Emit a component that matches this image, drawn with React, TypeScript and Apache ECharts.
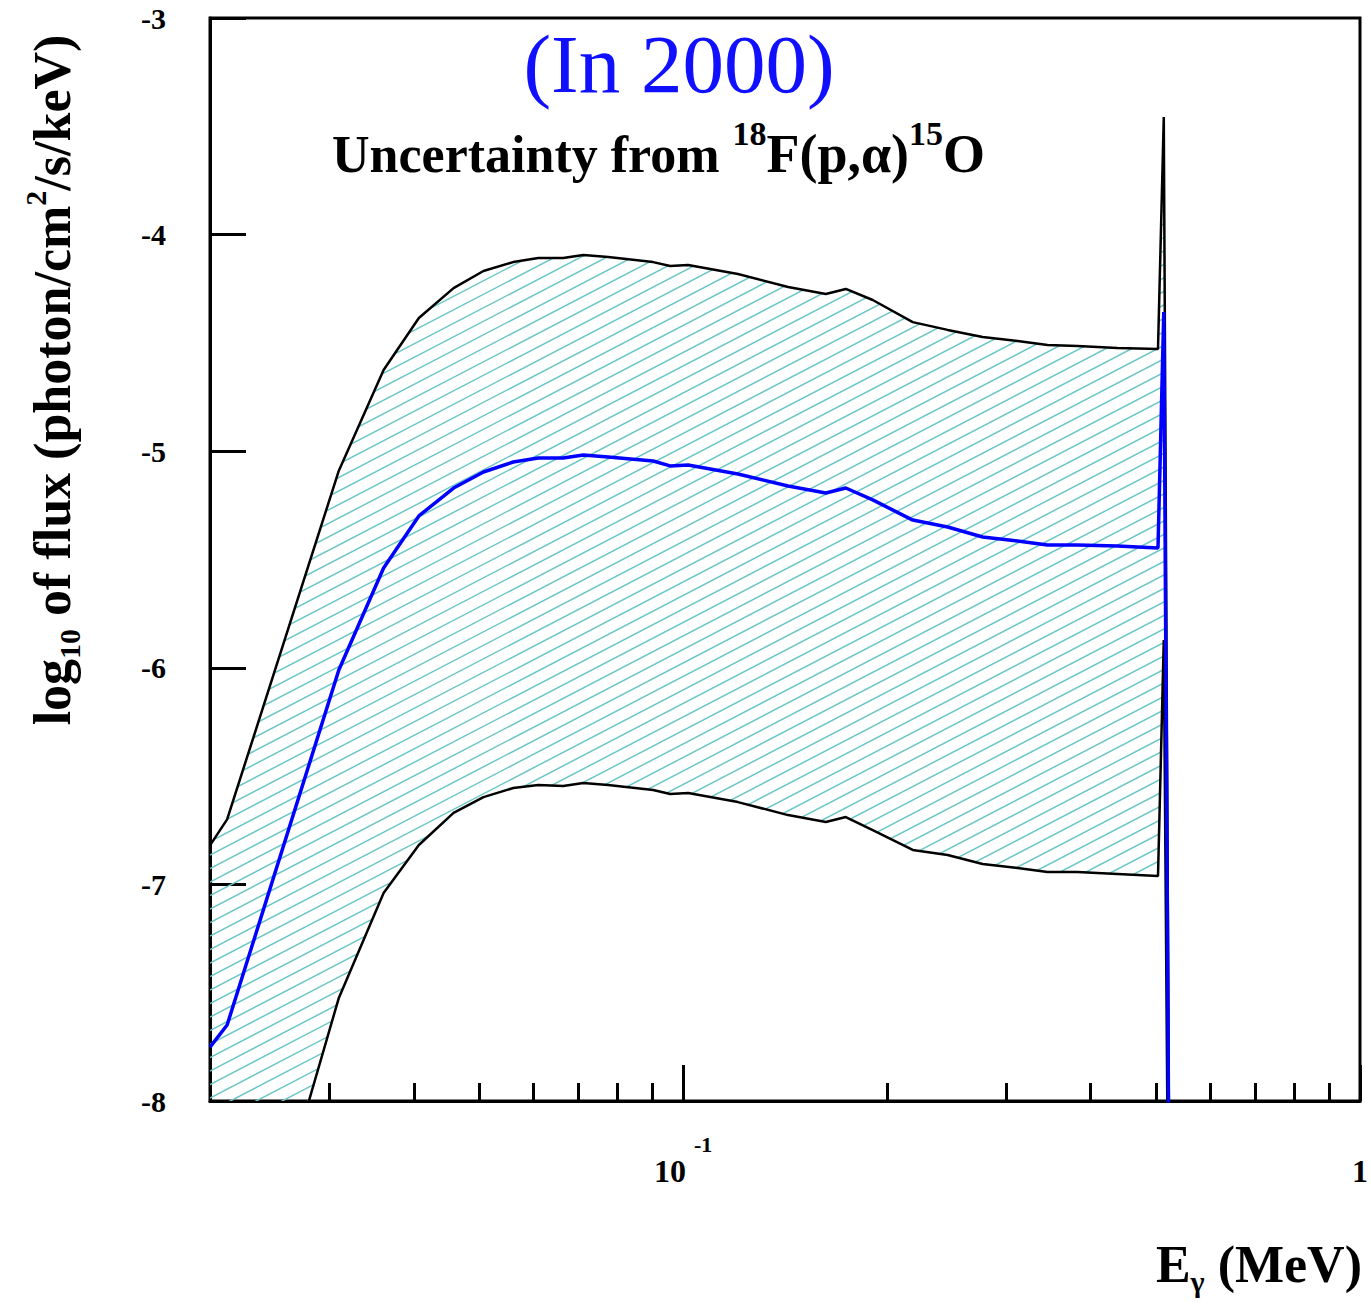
import React, { useEffect, useRef } from "react";
import * as echarts from "echarts";

// Photon energy (MeV) at which the curves were read
const energyMeV = [
  0.02, 0.0212, 0.031, 0.0361, 0.0407, 0.0458, 0.0507, 0.0561, 0.0611, 0.0665,
  0.0712, 0.0775, 0.0903, 0.0957, 0.1017, 0.1205, 0.1429, 0.1625, 0.1739, 0.1906,
  0.2184, 0.2459, 0.277, 0.312, 0.3454, 0.3825, 0.4381, 0.503, 0.513, 0.5235,
];
// log10 of flux (photon/cm2/s/keV)
const upperLogFlux = [
  -6.82, -6.7, -5.09, -4.625, -4.385, -4.247, -4.168, -4.127, -4.108, -4.108,
  -4.094, -4.103, -4.127, -4.145, -4.14, -4.182, -4.242, -4.274, -4.251, -4.302,
  -4.404, -4.44, -4.473, -4.491, -4.51, -4.514, -4.524, -4.528, -3.457, -8.8,
];
const centralLogFlux = [
  -7.751, -7.649, -6.01, -5.539, -5.299, -5.17, -5.096, -5.05, -5.031, -5.031,
  -5.018, -5.027, -5.045, -5.068, -5.064, -5.105, -5.161, -5.193, -5.17, -5.225,
  -5.318, -5.35, -5.396, -5.415, -5.433, -5.433, -5.438, -5.447, -4.357, -9.0,
];
const lowerLogFlux = [
  -9.6, -9.3, -7.524, -7.04, -6.818, -6.67, -6.597, -6.555, -6.541, -6.546,
  -6.532, -6.541, -6.564, -6.583, -6.578, -6.62, -6.68, -6.712, -6.689, -6.749,
  -6.841, -6.864, -6.906, -6.924, -6.943, -6.943, -6.952, -6.961, -5.872, -9.5,
];

const xMajorTicks = [0.1, 1];
const xMinorTicks = [0.03, 0.04, 0.05, 0.06, 0.07, 0.08, 0.09, 0.2, 0.3, 0.4, 0.5, 0.6, 0.7, 0.8, 0.9];
const yMin = -8;
const yMax = -3;

const SERIF = "Liberation Serif";

export default function App() {
  const ref = useRef<HTMLDivElement>(null);

  useEffect(() => {
    if (!ref.current) return;
    const chart = echarts.init(ref.current, undefined, { renderer: "svg" });

    const pairs = (ys: number[]) => energyMeV.map((e, i) => [e, ys[i]]);

    const option: any = {
      animation: false,
      grid: {
        left: 210,
        right: 8,
        top: 18,
        bottom: 205,
        show: true,
        borderColor: "#000",
        borderWidth: 3,
        backgroundColor: "transparent",
      },
      xAxis: [
        {
          type: "log",
          logBase: 10,
          min: 0.02,
          max: 1,
          position: "bottom",
          axisLine: { show: true, lineStyle: { color: "#000", width: 3 } },
          axisTick: {
            show: true,
            customValues: xMajorTicks,
            inside: true,
            length: 36,
            lineStyle: { color: "#000", width: 3 },
          },
          minorTick: { show: false },
          splitLine: { show: false },
          axisLabel: {
            show: true,
            customValues: xMajorTicks,
            margin: 32,
            formatter: (v: number) => (v < 0.5 ? "{b|10 }{s|-1}" : "{b|1}"),
            rich: {
              b: {
                fontFamily: SERIF,
                fontWeight: "bold",
                fontSize: 32,
                lineHeight: 54,
                verticalAlign: "bottom",
                color: "#000",
              },
              s: {
                fontFamily: SERIF,
                fontWeight: "bold",
                fontSize: 22,
                lineHeight: 22,
                verticalAlign: "top",
                color: "#000",
              },
            },
          },
        },
        {
          type: "log",
          logBase: 10,
          min: 0.02,
          max: 1,
          position: "bottom",
          axisLine: { show: false },
          axisTick: {
            show: true,
            customValues: xMinorTicks,
            inside: true,
            length: 18,
            lineStyle: { color: "#000", width: 3 },
          },
          axisLabel: { show: false },
          splitLine: { show: false },
        },
      ],
      yAxis: {
        type: "value",
        min: yMin,
        max: yMax,
        interval: 1,
        axisLine: { show: true, lineStyle: { color: "#000", width: 3 } },
        axisTick: { show: true, inside: true, length: 36, lineStyle: { color: "#000", width: 3 } },
        splitLine: { show: false },
        axisLabel: {
          color: "#000",
          fontFamily: SERIF,
          fontWeight: "bold",
          fontSize: 30,
          margin: 44,
          padding: [6, 0, 0, 0],
        },
      },
      series: [
        {
          type: "custom",
          xAxisIndex: 0,
          yAxisIndex: 0,
          clip: true,
          silent: true,
          z: 1,
          data: [[0.1, -5]],
          renderItem: (params: any, api: any) => {
            const cs = params.coordSys;
            const pts: number[][] = [];
            for (let i = 0; i < energyMeV.length; i++) pts.push(api.coord([energyMeV[i], upperLogFlux[i]]));
            for (let i = energyMeV.length - 1; i >= 0; i--) pts.push(api.coord([energyMeV[i], lowerLogFlux[i]]));
            const slope = 0.52;
            const gap = 13.5;
            const x0 = cs.x;
            const x1 = cs.x + cs.width;
            const lines: any[] = [];
            for (let c = cs.y; c <= cs.y + cs.height + slope * cs.width + gap; c += gap) {
              lines.push({
                type: "line",
                shape: { x1: x0, y1: c, x2: x1, y2: c - slope * cs.width },
                style: { stroke: "#6cc6c6", lineWidth: 1.5 },
              });
            }
            return {
              type: "group",
              clipPath: { type: "polygon", shape: { points: pts } },
              children: lines,
            };
          },
        },
        {
          type: "line",
          xAxisIndex: 0,
          data: pairs(upperLogFlux),
          showSymbol: false,
          silent: true,
          z: 2,
          lineStyle: { color: "#000", width: 2.5 },
          itemStyle: { color: "#000" },
        },
        {
          type: "line",
          xAxisIndex: 0,
          data: pairs(lowerLogFlux),
          showSymbol: false,
          silent: true,
          z: 2,
          lineStyle: { color: "#000", width: 2.5 },
          itemStyle: { color: "#000" },
        },
        {
          type: "line",
          xAxisIndex: 0,
          data: pairs(centralLogFlux),
          showSymbol: false,
          silent: true,
          z: 3,
          lineStyle: { color: "#0000ff", width: 3.5 },
          itemStyle: { color: "#0000ff" },
        },
      ],
      graphic: [
        {
          type: "text",
          x: 679,
          y: 64,
          z: 10,
          style: {
            text: "(In 2000)",
            fill: "#1010ff",
            fontFamily: SERIF,
            fontSize: 83,
            align: "center",
            verticalAlign: "middle",
          },
        },
        {
          type: "text",
          x: 332,
          y: 154,
          z: 10,
          style: {
            text: "Uncertainty from {sup|18}{chem|F(p,α)}{sup|15}{chem|O}",
            fill: "#000",
            fontFamily: SERIF,
            fontWeight: "bold",
            fontSize: 52,
            lineHeight: 76,
            align: "left",
            verticalAlign: "middle",
            rich: {
              sup: {
                fill: "#000",
                fontFamily: SERIF,
                fontWeight: "bold",
                fontSize: 34,
                lineHeight: 32,
                verticalAlign: "top",
              },
              chem: {
                fill: "#000",
                fontFamily: SERIF,
                fontWeight: "bold",
                fontSize: 54,
                lineHeight: 76,
                verticalAlign: "middle",
              },
            },
          },
        },
        {
          type: "text",
          x: 52,
          y: 380,
          rotation: Math.PI / 2,
          z: 10,
          style: {
            text: "log{sub|10} of flux (photon/cm{sup|2}/s/keV)",
            fill: "#000",
            fontFamily: SERIF,
            fontWeight: "bold",
            fontSize: 52,
            lineHeight: 64,
            align: "center",
            verticalAlign: "middle",
            rich: {
              sub: {
                fill: "#000",
                fontFamily: SERIF,
                fontWeight: "bold",
                fontSize: 30,
                lineHeight: 30,
                verticalAlign: "bottom",
              },
              sup: {
                fill: "#000",
                fontFamily: SERIF,
                fontWeight: "bold",
                fontSize: 30,
                lineHeight: 30,
                verticalAlign: "top",
              },
            },
          },
        },
        {
          type: "text",
          x: 1362,
          y: 1264,
          z: 10,
          style: {
            text: "E{sub|γ} (MeV)",
            fill: "#000",
            fontFamily: SERIF,
            fontWeight: "bold",
            fontSize: 52,
            lineHeight: 64,
            align: "right",
            verticalAlign: "middle",
            rich: {
              sub: {
                fill: "#000",
                fontFamily: SERIF,
                fontWeight: "bold",
                fontSize: 30,
                lineHeight: 30,
                verticalAlign: "bottom",
              },
            },
          },
        },
      ],
    };

    chart.setOption(option);
    return () => chart.dispose();
  }, []);

  return (
    <div
      ref={ref}
      style={{ position: "absolute", left: 0, top: 0, width: 1371, height: 1306, background: "#fff" }}
    />
  );
}
